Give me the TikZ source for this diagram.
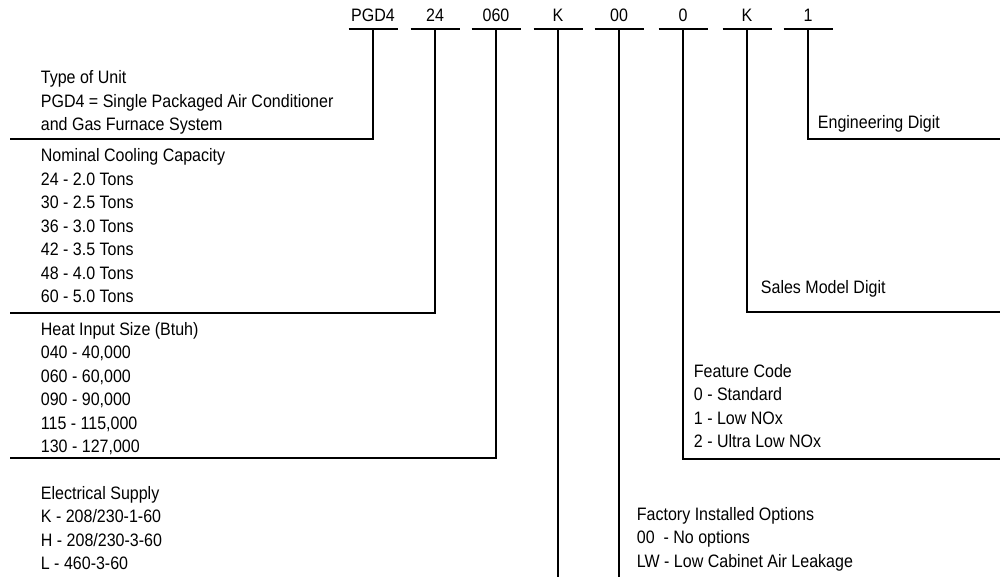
\documentclass[tikz,border=0pt]{standalone}
\usepackage{fontspec}
\setmainfont[FakeStretch=0.89]{Liberation Sans}
\usetikzlibrary{positioning}

\begin{document}
\begin{tikzpicture}[x=1pt,y=-1pt,line width=1.8pt,
  code/.style={anchor=base,inner sep=0pt,font=\fontsize{18}{20}\selectfont},
  desc/.style={anchor=base west,inner sep=0pt,font=\fontsize{18}{23.5}\selectfont}]
\useasboundingbox (0,0) rectangle (1000,577);

% model number digits with their bars
\foreach \x/\t/\n in {373/PGD4/pgd,435/24/cap,496/060/heat,558/K/elec,
    619/00/opt,683/0/feat,747/K/sales,808/1/eng}{
  \node[code] (\n-lbl) at (\x,22) {\t};
  \draw (\x-24.5,29) -- (\x+24.5,29);
  \coordinate (\n) at (\x,29);
}

% descriptions
\node[desc] (type) at (40,84) {\begin{tabular}[t]{@{}l@{}}Type of Unit\\PGD4 = Single Packaged Air Conditioner\\and Gas Furnace System\end{tabular}};
\node[desc] (capacity) at (40,162) {\begin{tabular}[t]{@{}l@{}}Nominal Cooling Capacity\\24 - 2.0 Tons\\30 - 2.5 Tons\\36 - 3.0 Tons\\42 - 3.5 Tons\\48 - 4.0 Tons\\60 - 5.0 Tons\end{tabular}};
\node[desc] (heatin) at (40,335) {\begin{tabular}[t]{@{}l@{}}Heat Input Size (Btuh)\\040 - 40,000\\060 - 60,000\\090 - 90,000\\115 - 115,000\\130 - 127,000\end{tabular}};
\node[desc] (supply) at (40,499) {\begin{tabular}[t]{@{}l@{}}Electrical Supply\\K - 208/230-1-60\\H - 208/230-3-60\\L - 460-3-60\end{tabular}};
\node[desc] (options) at (636,520) {\begin{tabular}[t]{@{}l@{}}Factory Installed Options\\00\ \ - No options\\LW - Low Cabinet Air Leakage\end{tabular}};
\node[desc] (feature) at (693,377) {\begin{tabular}[t]{@{}l@{}}Feature Code\\0 - Standard\\1 - Low NOx\\2 - Ultra Low NOx\end{tabular}};
\node[desc] (salesdig) at (760,293) {Sales Model Digit};
\node[desc] (engdig) at (817,129) {Engineering Digit};

% leader ends
\coordinate (pgd-end) at (10,139);
\coordinate (cap-end) at (10,313);
\coordinate (heat-end) at (10,458);
\coordinate (elec-end) at (558,577);
\coordinate (opt-end) at (619,577);
\coordinate (feat-end) at (1000,459);
\coordinate (sales-end) at (1000,312);
\coordinate (eng-end) at (1000,139);

\draw (pgd) |- (pgd-end);
\draw (cap) |- (cap-end);
\draw (heat) |- (heat-end);
\draw (elec) -- (elec-end);
\draw (opt) -- (opt-end);
\draw (feat) |- (feat-end);
\draw (sales) |- (sales-end);
\draw (eng) |- (eng-end);
\end{tikzpicture}
\end{document}
